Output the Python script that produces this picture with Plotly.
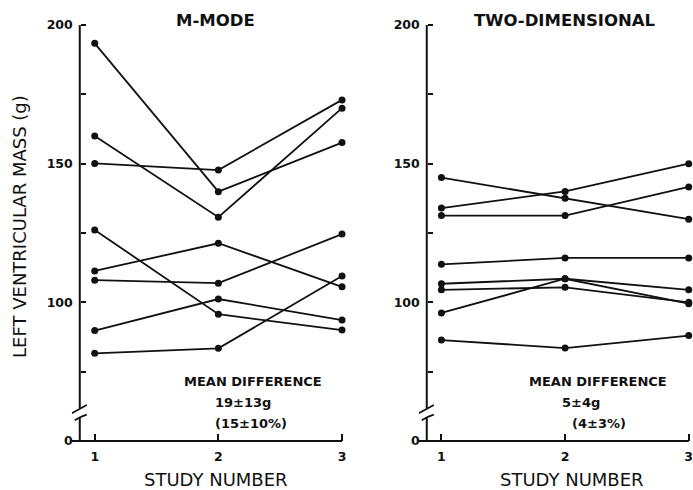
import plotly.graph_objects as go

# ---------------- data ----------------
studies = [1, 2, 3]
study_tick_labels = ["1", "2", "3"]

# M-mode left ventricular mass (g) for each subject at study 1, 2, 3
mmode_study1 = [193.4, 160.0, 150.1, 126.1, 111.3, 108.0, 89.8, 81.6]
mmode_study2 = [139.9, 130.7, 147.7, 95.7, 121.3, 106.9, 101.2, 83.4]
mmode_study3 = [157.6, 170.0, 173.0, 90.0, 105.6, 124.6, 93.6, 109.5]

# Two-dimensional left ventricular mass (g)
twod_study1 = [145.0, 134.0, 131.3, 113.7, 106.7, 104.5, 96.2, 86.4]
twod_study2 = [137.5, 140.0, 131.3, 116.0, 108.5, 105.4, 108.5, 83.5]
twod_study3 = [130.0, 150.0, 141.6, 116.0, 104.5, 100.0, 99.5, 88.0]

# y tick values (0 is drawn just below the axis break)
ytick_vals = [50, 75, 100, 125, 150, 175, 200]
ytick_text = ["0", "", "100", "", "150", "", "200"]

panel_titles = ["M-MODE", "TWO-DIMENSIONAL"]
mean_diff_g = ["19\u00b113g", "5\u00b14g"]
mean_diff_pct = ["(15\u00b110%)", "(4\u00b13%)"]

# ---------------- figure ----------------
W, H = 693, 490
FONT = "DejaVu Sans, Liberation Sans, Arial"
BLACK = "#111111"

def fx(px):
    return px / W

def fy(px):
    return 1 - px / H

fig = go.Figure()

panels = [
    ("x", "y", [mmode_study1, mmode_study2, mmode_study3]),
    ("x2", "y2", [twod_study1, twod_study2, twod_study3]),
]

for xa, ya, cols in panels:
    for i in range(len(cols[0])):
        fig.add_trace(go.Scatter(
            x=studies, y=[cols[0][i], cols[1][i], cols[2][i]],
            xaxis=xa, yaxis=ya, mode="lines+markers",
            line=dict(color=BLACK, width=1.8),
            marker=dict(color=BLACK, size=7),
            cliponaxis=False, showlegend=False, hoverinfo="skip",
        ))

px_per_unit = 124.0
left_dom_px = (72, 351)
right_dom_px = (420, 693)
left_x1_px, right_x1_px = 95.0, 442.7
left_yaxis_px, right_yaxis_px = 80.0, 428.0

def xrange_for(dom, x1px):
    return [1 - (x1px - dom[0]) / px_per_unit, 1 + (dom[1] - x1px) / px_per_unit]

xr_left = xrange_for(left_dom_px, left_x1_px)
xr_right = xrange_for(right_dom_px, right_x1_px)

# y: value 200 at y=25 px, pseudo value 50 ("0") at y=441 px
ppu_y = (441 - 25) / 150.0
yrange = [46, 204]
ydom = [fy(441 + 4 * ppu_y), fy(25 - 4 * ppu_y)]
xaxis_pos = fy(441)

common_x = dict(
    tickmode="array", tickvals=studies, ticktext=study_tick_labels,
    ticks="inside", ticklen=7, tickwidth=1.6, tickcolor=BLACK,
    showline=False, showgrid=False, zeroline=False,
    tickfont=dict(family=FONT, size=12.5, color=BLACK, weight="bold"),
    ticklabelstandoff=6, anchor="free", position=xaxis_pos,
    ticklabeloverflow="allow",
)
common_y = dict(
    range=yrange, domain=ydom,
    tickmode="array", tickvals=ytick_vals, ticktext=ytick_text,
    ticks="inside", ticklen=5, tickwidth=1.6, tickcolor=BLACK,
    showline=False, showgrid=False, zeroline=False,
    tickfont=dict(family=FONT, size=12.5, color=BLACK, weight="bold"),
    ticklabelstandoff=7, anchor="free",
)

fig.update_layout(
    width=W, height=H,
    margin=dict(l=0, r=0, t=0, b=0),
    paper_bgcolor="white", plot_bgcolor="white",
    xaxis=dict(domain=[fx(left_dom_px[0]), fx(left_dom_px[1])], range=xr_left, **common_x),
    xaxis2=dict(domain=[fx(right_dom_px[0]), fx(right_dom_px[1])], range=xr_right, **common_x),
    yaxis=dict(position=fx(left_yaxis_px), **common_y),
    yaxis2=dict(position=fx(right_yaxis_px), **common_y),
    showlegend=False,
)

shapes = []
for xa, ya, ypx, x1px, xr in [("x", "y", left_yaxis_px, left_x1_px, xr_left),
                               ("x2", "y2", right_yaxis_px, right_x1_px, xr_right)]:
    ax_x = 1 - (x1px - ypx) / px_per_unit
    d = 1 / px_per_unit
    line = dict(color=BLACK, width=2)
    shapes.append(dict(type="line", xref=xa, yref=ya, x0=xr[0], x1=3, y0=50, y1=50, line=line))
    shapes.append(dict(type="line", xref=xa, yref=ya, x0=ax_x, x1=ax_x, y0=61.8, y1=200, line=line))
    shapes.append(dict(type="line", xref=xa, yref=ya, x0=ax_x, x1=ax_x, y0=50, y1=58.6, line=line))
    shapes.append(dict(type="line", xref=xa, yref=ya, x0=ax_x - 8 * d, x1=ax_x + 7 * d,
                       y0=60.0, y1=63.0, line=dict(color=BLACK, width=1.8)))
    shapes.append(dict(type="path", xref=xa, yref=ya,
                       path=f"M {ax_x - 5*d},{57.5} Q {ax_x},{58.7} {ax_x + 7*d},{59.5}",
                       line=dict(color=BLACK, width=1.8)))
fig.update_layout(shapes=shapes)

ann = []
title_font = dict(family=FONT, size=16.5, color=BLACK, weight="bold")
axis_title_font = dict(family=FONT, size=18, color=BLACK)
note_font = dict(family=FONT, size=13, color=BLACK, weight="bold")

for k in range(2):
    ann.append(dict(text=panel_titles[k], xref="paper", yref="paper",
                    x=fx([216.5, 566.5][k]), y=fy(21),
                    xanchor="center", yanchor="middle", showarrow=False, font=title_font))
    ann.append(dict(text="STUDY NUMBER", xref="paper", yref="paper",
                    x=fx([217, 573.3][k]), y=fy(479),
                    xanchor="center", yanchor="middle", showarrow=False, font=axis_title_font))
    ann.append(dict(text="MEAN DIFFERENCE", xref="paper", yref="paper",
                    x=fx([254, 600][k]), y=fy(381.5),
                    xanchor="center", yanchor="middle", showarrow=False, font=note_font))
    ann.append(dict(text=mean_diff_g[k], xref="paper", yref="paper",
                    x=fx([243.5, 583][k]), y=fy(402.5),
                    xanchor="center", yanchor="middle", showarrow=False, font=note_font))
    ann.append(dict(text=mean_diff_pct[k], xref="paper", yref="paper",
                    x=fx([252, 601][k]), y=fy(423),
                    xanchor="center", yanchor="middle", showarrow=False, font=note_font))

ann.append(dict(text="LEFT VENTRICULAR MASS (g)", xref="paper", yref="paper",
                x=fx(19), y=fy(226), textangle=-90,
                xanchor="center", yanchor="middle", showarrow=False, font=axis_title_font))
fig.update_layout(annotations=ann)

fig.write_html(
    "out.html",
    config={"displayModeBar": False},
    post_script="document.body.style.margin='0';document.body.style.overflow='hidden';",
)
